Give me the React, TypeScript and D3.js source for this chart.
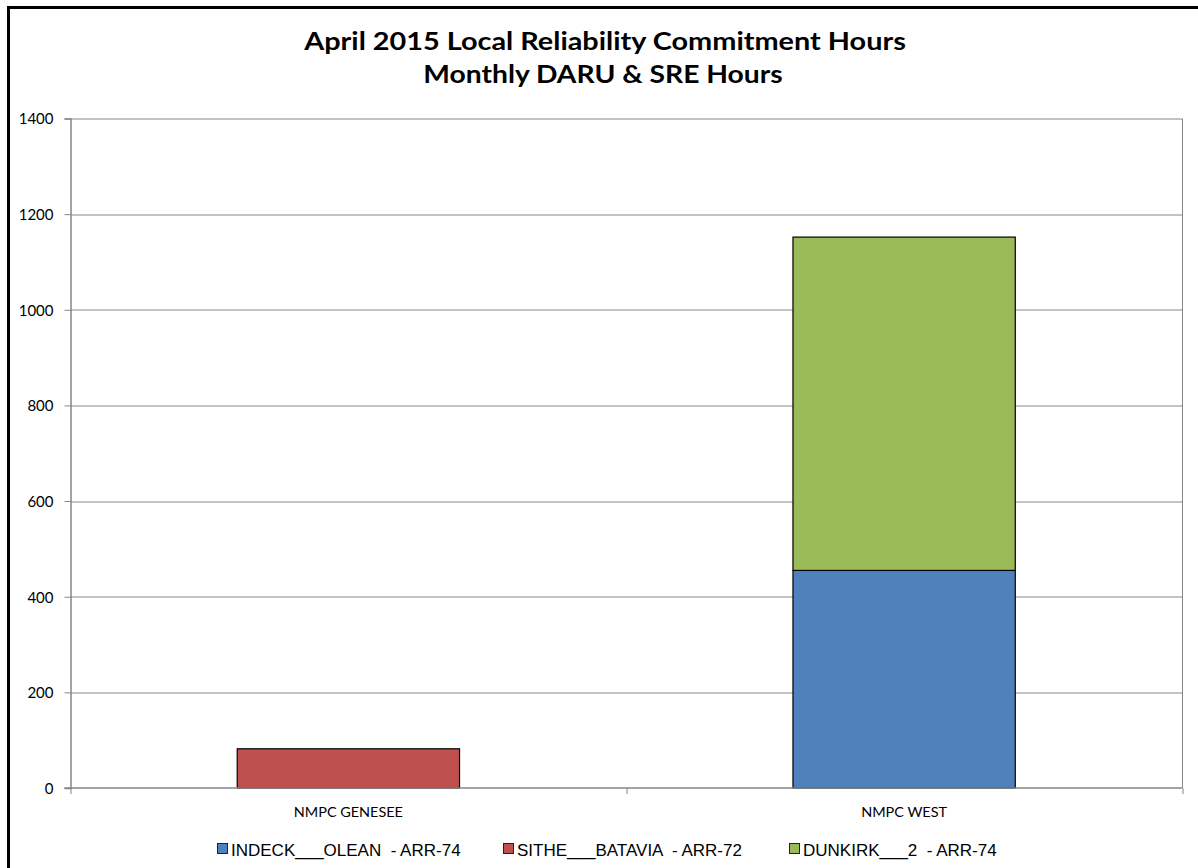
import React, { useRef, useEffect } from "react";
import * as d3 from "d3";

// chart data
const categories = ["NMPC GENESEE", "NMPC WEST"];
const seriesNames = [
  "INDECK___OLEAN  - ARR-74",
  "SITHE___BATAVIA  - ARR-72",
  "DUNKIRK___2  - ARR-74",
];
const indeckOlean = [0, 455];
const sitheBatavia = [82, 0];
const dunkirk2 = [0, 697];
const yTicks = [0, 200, 400, 600, 800, 1000, 1200, 1400];
const titleLines = [
  "April 2015 Local Reliability Commitment Hours",
  "Monthly DARU & SRE Hours",
];

const colors = ["#4f81bd", "#c0504d", "#9bbb59"];
const legendX = [217, 503, 789];

const App = () => {
  const svgRef = useRef<SVGSVGElement>(null);

  useEffect(() => {
    document.body.style.margin = "0";
    const svg = d3.select(svgRef.current);
    svg.selectAll("*").remove();

    const width = 1198;
    const height = 868;
    const margin = { top: 118.5, right: 16, bottom: 80, left: 70.5 };
    const innerWidth = width - margin.left - margin.right;
    const innerHeight = height - margin.top - margin.bottom;

    const rows = categories.map((c, i) => ({
      cat: c,
      s0: indeckOlean[i],
      s1: sitheBatavia[i],
      s2: dunkirk2[i],
    }));
    const keys = ["s0", "s1", "s2"];
    const stacked = d3.stack<any>().keys(keys)(rows);

    const x = d3
      .scaleBand()
      .domain(categories)
      .range([0, innerWidth])
      .paddingInner(0.6)
      .paddingOuter(0.3);
    const y = d3.scaleLinear().domain([0, 1400]).range([innerHeight, 0]);

    // background + outer frame
    svg.append("rect").attr("width", width).attr("height", height).attr("fill", "#fff");
    svg
      .append("rect")
      .attr("x", 8.5)
      .attr("y", 7.5)
      .attr("width", width + 20)
      .attr("height", height + 20)
      .attr("fill", "none")
      .attr("stroke", "#000")
      .attr("stroke-width", 3);

    // title (source image is stretched horizontally)
    titleLines.forEach((t, i) => {
      svg
        .append("text")
        .attr(
          "transform",
          `translate(${i === 0 ? 605 : 603},${50 + i * 33}) scale(${i === 0 ? 1.154 : 1.13},1)`
        )
        .attr("text-anchor", "middle")
        .attr("font-family", "Lato, sans-serif")
        .attr("font-weight", "bold")
        .attr("font-size", 25)
        .attr("fill", "#000")
        .text(t);
    });

    const g = svg
      .append("g")
      .attr("transform", `translate(${margin.left},${margin.top})`);

    // gridlines
    g.selectAll(".grid")
      .data(yTicks.filter((d) => d > 0))
      .enter()
      .append("line")
      .attr("x1", 0)
      .attr("x2", innerWidth)
      .attr("y1", (d) => Math.round(y(d)) + 0.5)
      .attr("y2", (d) => Math.round(y(d)) + 0.5)
      .attr("stroke", "#868686")
      .attr("stroke-width", 1);

    // right border of plot
    g.append("line")
      .attr("x1", innerWidth + 0.5)
      .attr("x2", innerWidth + 0.5)
      .attr("y1", 0)
      .attr("y2", innerHeight)
      .attr("stroke", "#868686");

    // bars
    stacked.forEach((layer, si) => {
      g.selectAll(".bar" + si)
        .data(layer.filter((d) => d[1] - d[0] > 0))
        .enter()
        .append("rect")
        .attr("x", (d) => x(d.data.cat)!)
        .attr("y", (d) => y(d[1]))
        .attr("width", x.bandwidth())
        .attr("height", (d) => y(d[0]) - y(d[1]))
        .attr("fill", colors[si])
        .attr("stroke", "#000")
        .attr("stroke-width", 1.2);
    });

    // y axis
    const yAxis = g
      .append("g")
      .call(
        d3
          .axisLeft(y)
          .tickValues(yTicks)
          .tickSize(6)
          .tickPadding(11)
          .tickFormat(d3.format("d"))
      );
    yAxis.select(".domain").attr("stroke", "#868686").attr("stroke-width", 1.5);
    yAxis.selectAll(".tick line").attr("stroke", "#868686");
    yAxis
      .selectAll(".tick text")
      .attr("font-family", "Lato, sans-serif")
      .attr("font-size", 15)
      .attr("dy", "0.36em")
      .attr("fill", "#000");

    // x axis baseline + category ticks
    g.append("line")
      .attr("x1", -6)
      .attr("x2", innerWidth)
      .attr("y1", innerHeight)
      .attr("y2", innerHeight)
      .attr("stroke", "#868686")
      .attr("stroke-width", 1.5);
    const step = x.step();
    const bounds = d3.range(categories.length + 1).map(
      (i) => x(categories[0])! - (step * x.paddingInner()) / 2 + i * step
    );
    g.selectAll(".xtick")
      .data(bounds)
      .enter()
      .append("line")
      .attr("x1", (d) => Math.round(d) + 0.5)
      .attr("x2", (d) => Math.round(d) + 0.5)
      .attr("y1", innerHeight)
      .attr("y2", innerHeight + 6)
      .attr("stroke", "#868686");
    g.selectAll(".xlabel")
      .data(categories)
      .enter()
      .append("text")
      .attr(
        "transform",
        (d) => `translate(${x(d)! + x.bandwidth() / 2},${innerHeight + 29}) scale(1.07,1)`
      )
      .attr("text-anchor", "middle")
      .attr("font-family", "Lato, sans-serif")
      .attr("font-size", 13.5)
      .attr("fill", "#000")
      .text((d) => d);

    // legend
    const legend = svg
      .selectAll(".legend")
      .data(seriesNames)
      .enter()
      .append("g")
      .attr("transform", (d, i) => `translate(${legendX[i]},843)`);
    legend
      .append("rect")
      .attr("x", 0.5)
      .attr("y", 0.5)
      .attr("width", 10)
      .attr("height", 10)
      .attr("fill", (d, i) => colors[i])
      .attr("stroke", "#222")
      .attr("stroke-width", 1);
    legend
      .append("text")
      .attr("x", 14)
      .attr("y", 13)
      .attr("font-family", "'Liberation Sans', Arial, sans-serif")
      .attr("font-size", 17)
      .attr("fill", "#000")
      .attr("xml:space", "preserve")
      .style("white-space", "pre")
      .text((d) => d);
  }, []);

  return <svg ref={svgRef} width={1198} height={868} style={{ display: "block" }} />;
};

export default App;
